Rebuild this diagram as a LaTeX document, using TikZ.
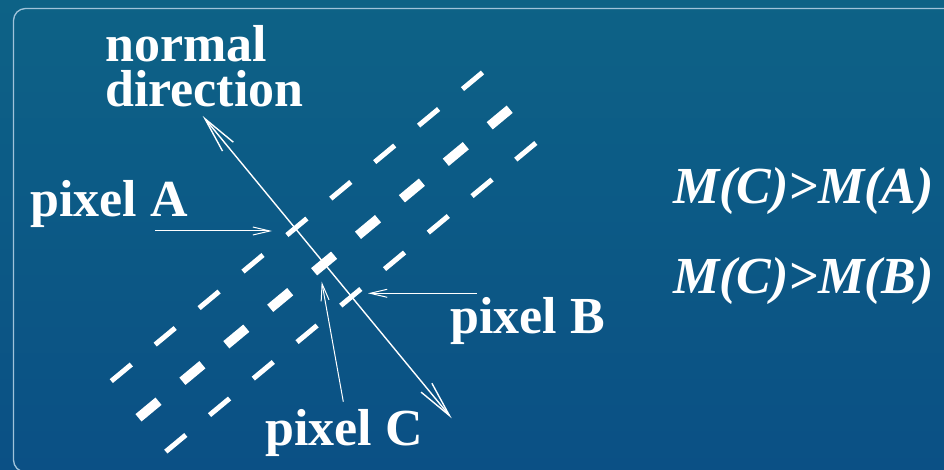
\documentclass[tikz,border=0pt]{standalone}
\usepackage{fontspec}
\setmainfont{Liberation Serif}
\usetikzlibrary{arrows.meta}
\definecolor{bgtop}{RGB}{13,98,134}
\definecolor{bgbot}{RGB}{11,80,133}
\definecolor{framecol}{RGB}{160,195,218}
\tikzset{
  lbl/.style={text=white, font=\fontsize{52}{44.5}\selectfont\bfseries, inner sep=0pt, anchor=base west},
  mathlbl/.style={text=white, font=\fontsize{52}{44}\selectfont\bfseries\itshape, inner sep=0pt, anchor=base west},
  thindash/.style={white, line width=5pt, line cap=butt},
  thickdash/.style={white, line width=9.5pt, line cap=butt},
  normalarrow/.style={white, line width=1.4pt, {Straight Barb[length=36pt,width=14pt,line width=1.4pt]}-{Straight Barb[length=36pt,width=14pt,line width=1.4pt]}},
  pointer/.style={white, line width=1pt, -{Straight Barb[length=17pt,width=8pt,line width=1pt]}}
}
\begin{document}
\begin{tikzpicture}[x=1pt,y=-1pt]
\useasboundingbox (0,0) rectangle (944,470);
\shade[top color=bgtop, bottom color=bgbot] (0,0) rectangle (944,470);
\draw[framecol, line width=1.3pt, rounded corners=12pt] (13.5,8.5) rectangle (980,472);
% dashed lines
\foreach \k in {0,...,8}{
  \draw[thindash] ({472.5-43.9*\k-10},{80.8+36.5*\k+8.3}) -- ++(20,-16.6);
  \draw[thickdash] ({499.7-43.9*\k-10},{117.5+36.5*\k+8.3}) -- ++(20,-16.6);
  \draw[thindash] ({525.8-43.75*\k-10},{151.3+36.5*\k+8.3}) -- ++(20,-16.6);
}
% labels
\node[lbl, align=left] (normal) at (105,106.2) {normal\\direction};
\node[lbl] (pxA) at (30,216.7) {pixel A};
\node[lbl] (pxB) at (450,333.3) {pixel B};
\node[lbl] (pxC) at (265,445) {pixel C};
\node[mathlbl] (ineqA) at (673,204) {M(C)>M(A)};
\node[mathlbl] (ineqB) at (673,293) {M(C)>M(B)};
% coordinates
\coordinate (nTop) at (202.7,116);
\coordinate (nBot) at (451.7,418.3);
\coordinate (aStart) at (155,231);
\coordinate (aTip) at (272,231);
\coordinate (bStart) at (476.7,293.3);
\coordinate (bTip) at (368,293.3);
\coordinate (cStart) at (343.3,401.7);
\coordinate (cTip) at (321.7,281.7);
\draw[normalarrow] (nTop) -- (nBot);
\draw[pointer] (aStart) -- (aTip);
\draw[pointer] (bStart) -- (bTip);
\draw[pointer] (cStart) -- (cTip);
\end{tikzpicture}
\end{document}
